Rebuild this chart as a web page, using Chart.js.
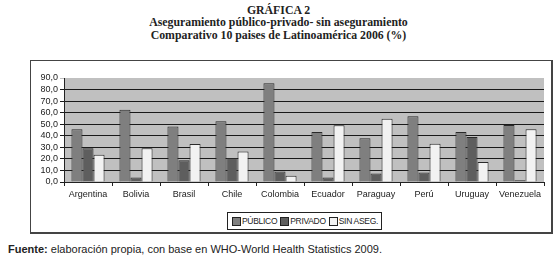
<!DOCTYPE html>
<html><head><meta charset="utf-8">
<script src="https://cdn.jsdelivr.net/npm/chart.js@4/dist/chart.umd.min.js"></script>
<style>
html,body{margin:0;padding:0;background:#fff;}
body{width:557px;height:259px;position:relative;overflow:hidden;}
#title{position:absolute;left:0;top:4px;width:557px;text-align:center;font:bold 11.8px "Liberation Serif","Times New Roman",serif;line-height:12.3px;color:#222;}
#box{position:absolute;left:30px;top:60px;width:520px;height:171px;border:1px solid #444;border-right-width:2px;border-bottom-width:2px;}
#wrap{position:absolute;left:0;top:0;width:520px;height:140px;}
#legend{position:absolute;left:196px;top:151px;height:16px;padding:0 3px 0 1px;border:1px solid #222;font:8.5px "Liberation Sans",Arial,sans-serif;letter-spacing:-0.3px;color:#222;display:flex;align-items:center;white-space:nowrap;}
#legend span.sw{display:inline-block;width:7px;height:7px;border:1px solid #222;margin:0 1px 0 3px;vertical-align:middle;}
#foot{position:absolute;left:8px;top:243px;font:11px "Liberation Sans",Arial,sans-serif;color:#222;}
</style></head>
<body>
<div id="title">GRÁFICA 2<br>Aseguramiento público-privado- sin aseguramiento<br>Comparativo 10 paises de Latinoamérica 2006 (%)</div>
<div id="box"><div id="wrap"><canvas id="c"></canvas></div><div id="legend"></div></div>
<div id="foot"><b>Fuente:</b> elaboración propia, con base en WHO-World Health Statistics 2009.</div>
<script>
const categories = ["Argentina","Bolivia","Brasil","Chile","Colombia","Ecuador","Paraguay","Perú","Uruguay","Venezuela"];
const seriesNames = ["PÚBLICO","PRIVADO","SIN ASEG."];
const publico = [45.7, 62.5, 48.0, 52.6, 85.5, 43.3, 37.8, 57.0, 43.3, 49.4];
const privado = [29.1, 3.8, 18.8, 20.7, 9.0, 3.8, 7.3, 8.2, 39.0, 1.5];
const sinAseg = [23.6, 29.1, 32.9, 26.5, 5.5, 49.1, 54.7, 33.1, 17.2, 45.7];
const yTicks = [0,10,20,30,40,50,60,70,80,90];

const fills = ["#7f7f7f","#5e5e5e","#f2f2f2"];
const borders = ["#2a2a2a","#2a2a2a","#2a2a2a"];
const values = [publico, privado, sinAseg];

const lg = document.getElementById('legend');
seriesNames.forEach((n,i)=>{
  const s=document.createElement('span');s.className='sw';s.style.background=fills[i];lg.appendChild(s);
  const t=document.createElement('span');t.textContent=n;lg.appendChild(t);
});

const bgPlugin = {id:'bg', beforeDraw(ch){const a=ch.chartArea,c=ch.ctx;c.save();c.fillStyle='#c0c0c0';c.fillRect(a.left,a.top,a.right-a.left,a.bottom-a.top);c.restore();}};

new Chart(document.getElementById('c'),{
  type:'bar',
  data:{labels:categories,datasets:seriesNames.map((n,i)=>({label:n,data:values[i],backgroundColor:fills[i],borderColor:borders[i],borderWidth:1,categoryPercentage:0.69,barPercentage:1}))},
  options:{
    responsive:true,maintainAspectRatio:false,animation:false,
    layout:{padding:{top:17,right:7,left:0,bottom:0}},
    plugins:{legend:{display:false},tooltip:{enabled:false}},
    scales:{
      x:{grid:{offset:true,drawOnChartArea:false,tickLength:4,color:'#222'},border:{color:'#222'},
         ticks:{font:{family:'"Liberation Sans",Arial,sans-serif',size:9},color:'#222',maxRotation:0,autoSkip:false,padding:3},
         afterFit(s){s.height=19;}},
      y:{min:0,max:90,afterBuildTicks(s){s.ticks=yTicks.map(v=>({value:v}));},
         grid:{tickLength:4,color:(ctx)=>ctx.tick&&ctx.tick.value===90?'#c0c0c0':'#1a1a1a'},border:{color:'#222'},
         ticks:{autoSkip:false,font:{family:'"Liberation Sans",Arial,sans-serif',size:9},color:'#222',padding:2,callback:(v)=>Number(v).toFixed(1).replace('.',',')},
         afterFit(s){s.width=33;}}
    }
  },
  plugins:[bgPlugin]
});
</script>
</body></html>
